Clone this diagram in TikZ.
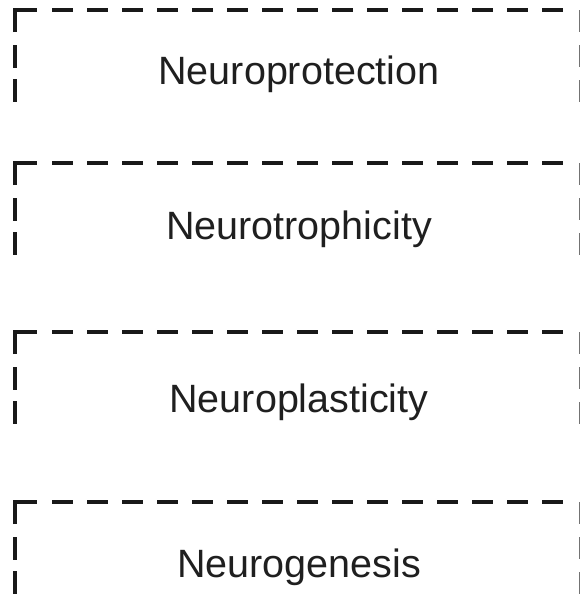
\documentclass[tikz,border=0pt]{standalone}
\usepackage{fontspec}
\setmainfont{Liberation Sans}
\begin{document}
\begin{tikzpicture}[x=1pt,y=-1pt,
  corner/.style={line width=3.6pt,draw=black!90,line cap=butt,line join=miter},
  hdash/.style={line width=3.6pt,draw=black!90,dash pattern=on 21pt off 14pt},
  vdash/.style={line width=3.6pt,draw=black!90,dash pattern=on 23pt off 11pt},
  rdash/.style={line width=2.4pt,draw=black!55,dash pattern=on 22pt off 13pt},
  lbl/.style={anchor=base,text=black!88,font=\fontsize{39.5}{42}\selectfont,inner sep=0pt}]
\useasboundingbox (0,0) rectangle (580,595);
\fill[white] (0,0) rectangle (580,595);
\foreach \t/\b/\txt/\nm in {10/84/Neuroprotection/a, 163/239/Neurotrophicity/b, 332/412/Neuroplasticity/c, 502/577/Neurogenesis/d}{
  \draw[corner] (15,\t+22) -- (15,\t) -- (37,\t);
  \draw[hdash] (52,\t) -- (570,\t);
  \draw[vdash] (15,\t+35) -- (15,\t+95);
  \draw[rdash] (580.3,\t) -- (580.3,\t+95);
  \node[lbl] (\nm) at (299,\b) {\txt};
}
\end{tikzpicture}
\end{document}
